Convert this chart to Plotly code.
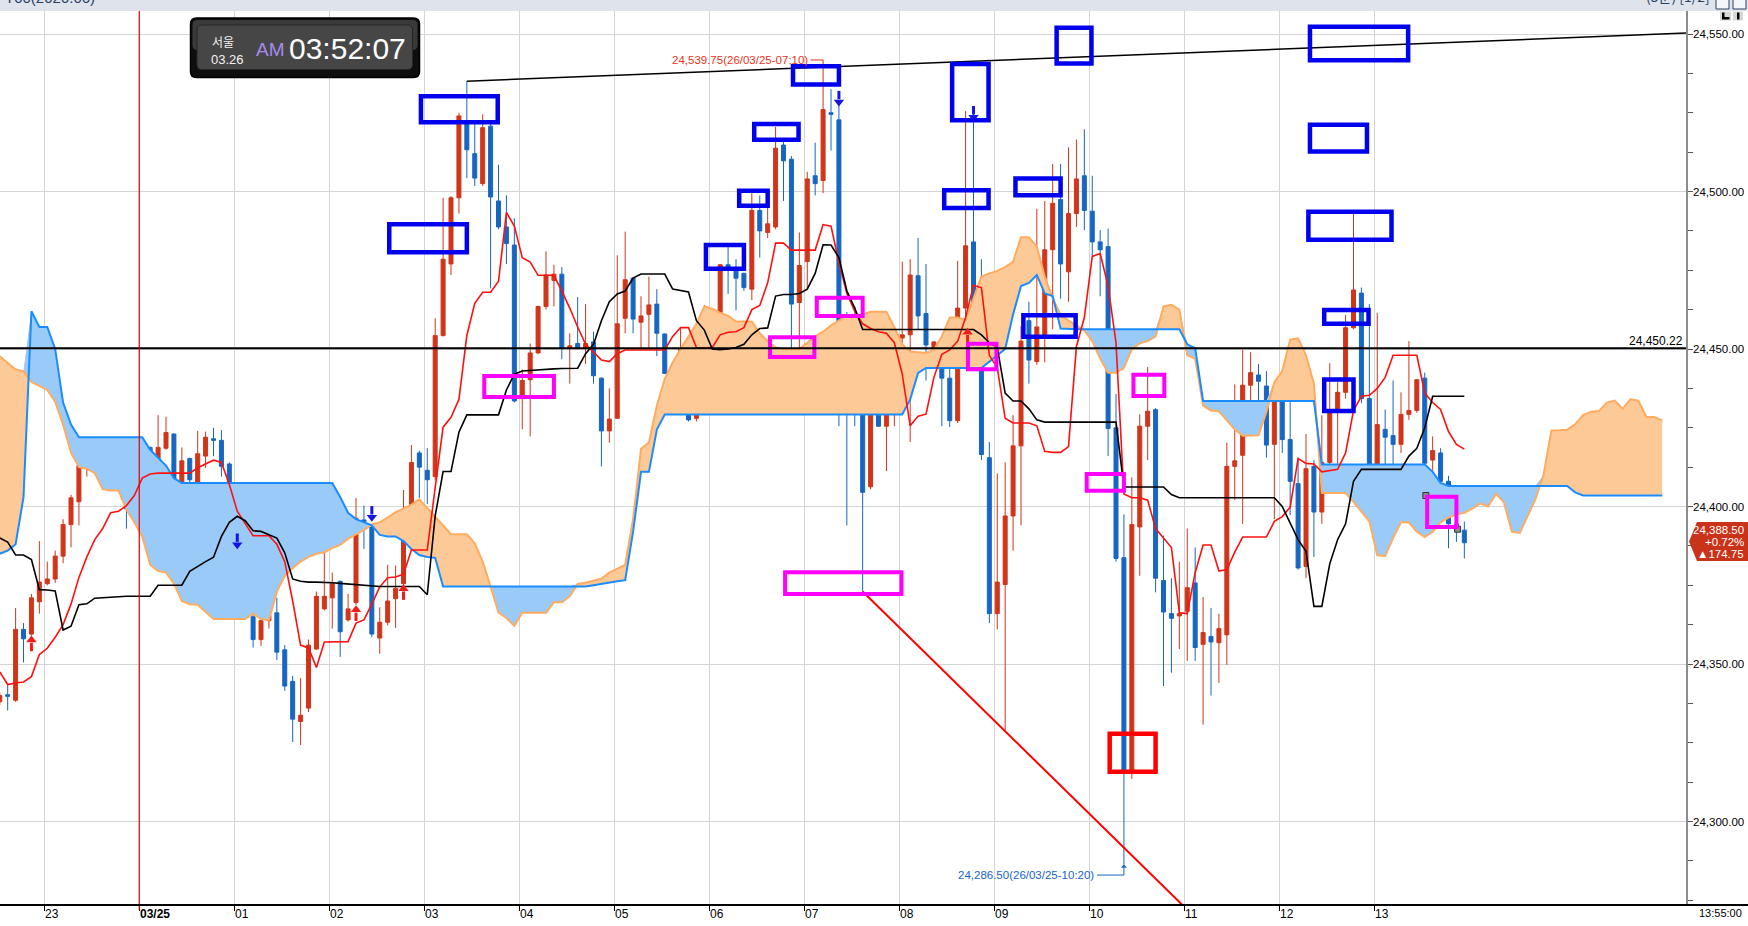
import plotly.graph_objects as go

# 5-minute bars: index 0 = 03/24 23:00, index 179 = 03/25 13:55
bar_index = list(range(-6, 180))

bar_open = [
    24338.0, 24340.25, 24338.5, 24361.0, 24359.5, 24369.75, 24375.5, 24377.0, 24384.25, 24394.25, 24401.5, 24412.25,
    24418.0, 24412.5, 24416.0, 24411.5, 24406.5, 24400.0, 24401.0, 24418.75, 24408.0, 24418.5, 24423.0, 24407.5,
    24415.25, 24407.5, 24416.0, 24421.5, 24421.0, 24413.5, 24382.5, 24380.5, 24365.0, 24357.75, 24363.75, 24366.25,
    24354.5, 24344.5, 24331.75, 24336.0, 24354.75, 24367.5, 24371.0, 24376.25, 24364.0, 24369.5, 24395.75, 24393.5,
    24358.25, 24363.25, 24370.75, 24375.5, 24396.25, 24417.0, 24411.5, 24409.5, 24454.25, 24477.0, 24498.0, 24522.5,
    24512.0, 24502.5, 24520.75, 24497.0, 24488.75, 24483.0, 24435.25, 24440.25, 24448.75, 24463.5, 24471.75, 24473.75,
    24450.5, 24451.75, 24450.25, 24452.25, 24440.75, 24424.0, 24428.0, 24459.75, 24472.5, 24458.5, 24461.0, 24464.25,
    24454.75, 24441.25, 24439.75, 24447.75, 24428.0, 24448.5, 24457.0, 24448.25, 24476.75, 24475.5, 24474.0, 24469.0,
    24494.0, 24487.0, 24488.75, 24514.75, 24510.25, 24464.75, 24477.75, 24505.0, 24503.5, 24525.0, 24522.75, 24439.5,
    24438.75, 24429.25, 24406.25, 24454.5, 24425.5, 24429.25, 24453.5, 24454.5, 24473.25, 24461.25, 24450.5, 24451.25,
    24440.75, 24427.25, 24463.0, 24484.0, 24449.5, 24415.5, 24366.0, 24375.25, 24397.0, 24419.25, 24459.0, 24446.0,
    24453.5, 24481.5, 24497.5, 24474.5, 24493.0, 24505.0, 24493.75, 24484.0, 24482.5, 24425.0, 24383.75, 24315.5,
    24393.5, 24425.5, 24430.75, 24376.5, 24366.0, 24365.25, 24366.75, 24375.75, 24356.25, 24358.75, 24356.75, 24359.25,
    24412.75, 24416.25, 24438.5, 24441.75, 24438.25, 24419.75, 24436.0, 24421.25, 24407.25, 24381.0, 24412.75, 24398.25,
    24414.0, 24430.75, 24436.25, 24456.75, 24467.75, 24434.25, 24407.75, 24424.5, 24422.5, 24419.75, 24429.25, 24430.5,
    24440.75, 24414.75, 24417.0, 24408.0, 24394.5, 24392.5,
]
bar_high = [
    24341.0, 24343.5, 24367.75, 24363.0, 24372.25, 24389.0, 24382.5, 24386.0, 24396.0, 24403.75, 24417.0, 24418.0,
    24420.0, 24418.75, 24421.25, 24413.0, 24407.25, 24404.5, 24421.0, 24419.0, 24429.0, 24428.5, 24423.25, 24418.75,
    24415.5, 24424.0, 24423.75, 24425.0, 24424.25, 24414.0, 24388.75, 24382.75, 24373.0, 24370.25, 24370.75, 24371.0,
    24356.0, 24346.25, 24345.5, 24357.75, 24373.0, 24390.0, 24379.0, 24376.5, 24372.25, 24402.75, 24400.25, 24394.0,
    24368.0, 24381.5, 24381.25, 24405.25, 24419.5, 24417.75, 24418.5, 24459.75, 24498.0, 24498.5, 24525.0, 24535.0,
    24521.5, 24524.5, 24522.5, 24508.5, 24498.75, 24491.5, 24443.5, 24451.75, 24463.75, 24481.0, 24476.75, 24476.0,
    24455.0, 24466.5, 24464.25, 24455.5, 24441.0, 24437.5, 24479.75, 24487.25, 24472.75, 24466.75, 24473.0, 24469.0,
    24455.0, 24446.0, 24456.75, 24453.5, 24451.75, 24464.0, 24462.0, 24477.0, 24482.5, 24478.5, 24474.25, 24499.5,
    24498.75, 24497.5, 24520.5, 24516.5, 24511.25, 24487.0, 24506.25, 24515.5, 24539.75, 24532.5, 24527.25, 24461.75,
    24463.5, 24429.75, 24456.0, 24455.0, 24441.5, 24456.25, 24477.75, 24478.5, 24485.25, 24477.0, 24452.5, 24451.5,
    24449.25, 24478.0, 24525.5, 24524.75, 24478.5, 24420.5, 24410.5, 24414.0, 24429.0, 24457.25, 24465.0, 24494.5,
    24497.0, 24508.75, 24508.75, 24514.0, 24516.5, 24519.75, 24505.0, 24487.75, 24488.25, 24435.75, 24397.5, 24409.25,
    24429.25, 24444.25, 24431.25, 24390.75, 24377.25, 24382.5, 24393.0, 24387.0, 24371.25, 24367.75, 24366.0, 24420.25,
    24438.75, 24449.75, 24449.0, 24445.25, 24443.0, 24438.75, 24440.25, 24442.25, 24415.5, 24423.0, 24414.75, 24429.0,
    24445.5, 24439.5, 24460.75, 24493.5, 24469.5, 24464.25, 24461.5, 24430.75, 24440.0, 24436.25, 24452.5, 24440.5,
    24442.5, 24422.25, 24418.5, 24409.75, 24394.75, 24395.25,
]
bar_low = [
    24337.0, 24335.25, 24338.0, 24350.5, 24359.0, 24366.0, 24375.0, 24375.75, 24382.0, 24387.0, 24394.0, 24409.5,
    24412.75, 24411.0, 24407.25, 24404.75, 24393.0, 24399.0, 24399.75, 24403.75, 24402.5, 24418.0, 24403.75, 24407.0,
    24402.75, 24405.75, 24412.25, 24416.0, 24409.5, 24381.0, 24373.0, 24364.0, 24355.25, 24355.75, 24361.25, 24351.25,
    24341.5, 24325.25, 24324.25, 24334.75, 24354.5, 24367.0, 24361.25, 24352.25, 24363.5, 24368.75, 24386.5, 24358.5,
    24353.25, 24362.25, 24361.5, 24375.0, 24390.5, 24402.75, 24400.75, 24408.5, 24454.0, 24473.5, 24493.0, 24504.25,
    24501.75, 24501.75, 24469.25, 24488.0, 24477.0, 24433.0, 24424.5, 24422.25, 24448.5, 24462.5, 24463.5, 24446.75,
    24439.0, 24450.0, 24445.25, 24439.0, 24412.75, 24420.25, 24428.0, 24455.0, 24455.0, 24450.25, 24450.25, 24447.75,
    24442.0, 24434.5, 24439.5, 24427.0, 24427.0, 24443.5, 24446.0, 24446.0, 24467.5, 24462.25, 24468.5, 24465.5,
    24479.0, 24485.25, 24488.0, 24497.0, 24440.0, 24449.5, 24469.25, 24498.75, 24499.5, 24513.0, 24425.5, 24394.0,
    24425.5, 24373.0, 24405.5, 24425.25, 24411.25, 24425.5, 24429.0, 24420.5, 24456.25, 24440.0, 24445.0, 24425.5,
    24425.25, 24426.5, 24444.0, 24449.5, 24414.75, 24363.0, 24361.0, 24329.0, 24386.0, 24394.0, 24439.0, 24445.0,
    24445.75, 24456.25, 24466.0, 24465.0, 24488.75, 24487.75, 24479.5, 24466.75, 24416.0, 24382.5, 24286.5, 24313.5,
    24378.0, 24414.75, 24372.75, 24343.0, 24347.25, 24354.75, 24351.0, 24351.0, 24330.75, 24340.0, 24344.0, 24349.75,
    24402.0, 24394.5, 24425.75, 24423.0, 24415.5, 24396.0, 24417.0, 24397.25, 24380.0, 24377.25, 24384.0, 24394.5,
    24412.5, 24410.25, 24434.25, 24456.25, 24432.75, 24403.5, 24402.0, 24409.25, 24406.5, 24417.0, 24427.5, 24429.75,
    24411.75, 24404.75, 24400.25, 24386.75, 24388.75, 24383.5,
]
bar_close = [
    24340.0, 24339.75, 24361.0, 24358.0, 24371.0, 24376.0, 24377.0, 24384.25, 24394.25, 24402.75, 24413.0, 24417.0,
    24412.75, 24414.5, 24411.0, 24407.25, 24399.25, 24399.5, 24419.75, 24405.0, 24418.75, 24423.5, 24407.25, 24414.5,
    24408.5, 24416.75, 24422.0, 24421.0, 24412.75, 24382.5, 24380.0, 24366.25, 24357.75, 24363.75, 24365.5, 24353.75,
    24343.0, 24332.5, 24333.75, 24356.0, 24371.5, 24371.5, 24375.5, 24360.25, 24367.5, 24396.25, 24393.5, 24359.5,
    24363.25, 24370.0, 24374.0, 24396.25, 24414.0, 24412.5, 24408.5, 24454.25, 24478.5, 24498.0, 24524.0, 24513.25,
    24504.25, 24520.25, 24498.25, 24488.75, 24483.5, 24433.5, 24440.0, 24448.75, 24463.5, 24473.5, 24473.75, 24450.25,
    24451.0, 24450.25, 24451.75, 24441.5, 24424.0, 24427.75, 24458.0, 24472.0, 24459.5, 24460.5, 24464.0, 24455.0,
    24442.25, 24440.75, 24450.0, 24427.5, 24448.5, 24457.25, 24446.75, 24476.75, 24475.0, 24472.5, 24469.5, 24494.0,
    24487.5, 24489.75, 24513.75, 24509.75, 24464.25, 24476.5, 24504.0, 24502.5, 24526.0, 24524.5, 24439.0, 24437.5,
    24434.0, 24404.5, 24454.25, 24425.5, 24431.5, 24453.5, 24454.5, 24473.5, 24460.5, 24451.25, 24452.25, 24440.75,
    24427.25, 24463.0, 24482.75, 24449.5, 24416.5, 24366.0, 24376.0, 24397.0, 24419.25, 24452.5, 24446.5, 24457.0,
    24481.5, 24496.25, 24477.0, 24493.0, 24504.0, 24494.0, 24484.0, 24481.5, 24424.75, 24383.5, 24316.0, 24394.25,
    24425.5, 24430.25, 24377.25, 24366.5, 24364.5, 24366.0, 24374.25, 24355.25, 24360.0, 24357.0, 24361.25, 24412.75,
    24414.5, 24438.5, 24442.5, 24439.75, 24419.5, 24436.0, 24421.25, 24408.0, 24380.5, 24412.0, 24398.25, 24414.0,
    24430.0, 24436.25, 24456.75, 24468.75, 24434.25, 24406.75, 24426.0, 24422.0, 24419.75, 24429.25, 24430.5, 24440.25,
    24413.75, 24417.75, 24408.0, 24394.5, 24392.75, 24388.5,
]

# Ichimoku lines
tenkan = [
    24347.5, 24343.5, 24344.0, 24344.3, 24346.0, 24353.0, 24355.0, 24358.5, 24362.5, 24369.0, 24377.5, 24384.0,
    24389.5, 24393.0, 24398.0, 24398.5, 24400.3, 24403.5, 24409.0, 24410.3, 24410.6, 24410.6, 24410.6, 24410.6,
    24410.6, 24412.3, 24413.5, 24414.7, 24414.0, 24407.0, 24398.5, 24394.5, 24390.7, 24390.7, 24390.7, 24388.0,
    24382.5, 24370.0, 24356.0, 24355.1, 24348.9, 24357.0, 24357.1, 24357.1, 24357.1, 24363.0, 24364.0, 24369.0,
    24374.5, 24377.4, 24377.6, 24378.5, 24386.2, 24386.2, 24386.2, 24406.0, 24425.2, 24428.3, 24434.0, 24454.3,
    24464.5, 24468.0, 24468.0, 24471.5, 24493.4, 24489.0, 24479.0, 24477.6, 24473.4, 24473.4, 24473.4, 24468.4,
    24463.0, 24457.0, 24451.5, 24449.0, 24446.5, 24446.0, 24448.5, 24449.7, 24449.7, 24449.7, 24449.7, 24449.7,
    24449.7, 24454.0, 24456.8, 24456.8, 24450.5, 24450.3, 24450.5, 24454.5, 24455.3, 24455.5, 24456.8, 24462.5,
    24463.8, 24471.0, 24483.6, 24483.6, 24481.4, 24481.4, 24481.4, 24481.4, 24489.5, 24489.0, 24477.5, 24467.6,
    24462.0, 24458.0, 24456.5, 24455.5, 24455.0, 24452.0, 24442.0, 24425.6, 24428.7, 24429.3, 24441.0, 24448.3,
    24449.7, 24452.5, 24460.0, 24470.2, 24469.5, 24448.0, 24444.1, 24428.0, 24426.5, 24426.5, 24426.5, 24425.6,
    24417.5, 24417.2, 24417.2, 24419.0, 24450.8, 24460.0, 24479.4, 24480.3, 24470.0, 24452.0, 24404.0, 24402.8,
    24402.8, 24402.0, 24393.0, 24390.0, 24387.0, 24366.3, 24366.0, 24379.0, 24387.8, 24387.8, 24379.5, 24380.0,
    24385.5, 24390.3, 24390.3, 24390.3, 24390.3, 24395.3, 24396.8, 24399.8, 24415.2, 24413.7, 24413.5, 24411.0,
    24411.5, 24411.8, 24417.0, 24430.5, 24435.0, 24435.3, 24437.5, 24441.0, 24448.0, 24448.0, 24448.0, 24448.0,
    24436.0, 24433.0, 24430.8, 24423.8, 24419.7, 24418.2,
]
kijun = [
    24390.0, 24388.7, 24384.6, 24384.6, 24383.2, 24373.6, 24373.5, 24373.2, 24360.8, 24362.0, 24368.8, 24369.1,
    24370.9, 24371.1, 24371.3, 24371.5, 24371.5, 24371.5, 24371.5, 24371.5, 24375.0, 24375.0, 24375.0, 24375.0,
    24379.4, 24381.0, 24382.5, 24383.9, 24390.5, 24395.0, 24396.9, 24395.5, 24392.3, 24392.1, 24391.0, 24390.0,
    24385.3, 24377.0, 24376.3, 24376.0, 24376.0, 24376.0, 24375.8, 24375.6, 24375.4, 24375.2, 24375.0, 24374.6,
    24374.6, 24374.6, 24374.6, 24374.6, 24374.6, 24374.6, 24372.0, 24397.0, 24411.1, 24411.1, 24423.6, 24429.1,
    24429.1, 24429.1, 24429.1, 24429.1, 24437.0, 24442.0, 24443.0, 24443.2, 24443.5, 24443.5, 24443.7, 24443.8,
    24443.9, 24443.9, 24448.5, 24451.5, 24459.0, 24465.0, 24467.5, 24468.4, 24472.5, 24473.8, 24473.8, 24473.8,
    24473.8, 24469.0, 24468.5, 24468.1, 24459.0, 24456.0, 24450.0, 24449.8, 24450.0, 24450.5, 24451.5, 24454.5,
    24456.5, 24456.7, 24466.8, 24467.3, 24467.3, 24467.6, 24469.0, 24474.0, 24483.1, 24483.0, 24479.0, 24468.5,
    24463.0, 24456.2, 24456.2, 24456.2, 24456.2, 24456.2, 24456.2, 24456.2, 24456.2, 24456.2, 24456.2, 24456.2,
    24456.2, 24456.2, 24456.2, 24456.2, 24454.5, 24452.0, 24450.5, 24436.0, 24433.5, 24433.5, 24431.0, 24427.5,
    24426.8, 24426.8, 24426.8, 24426.8, 24426.8, 24426.8, 24426.8, 24426.8, 24426.8, 24426.8, 24406.2, 24406.2,
    24406.2, 24406.2, 24406.2, 24406.2, 24403.8, 24402.8, 24402.8, 24402.8, 24402.8, 24402.8, 24402.8, 24402.8,
    24402.8, 24402.8, 24402.8, 24402.8, 24402.8, 24402.8, 24400.0, 24395.0, 24389.5, 24385.8, 24368.3, 24368.3,
    24381.8, 24389.5, 24394.5, 24408.0, 24411.8, 24411.8, 24411.8, 24411.8, 24411.8, 24411.8, 24416.0, 24418.5,
    24425.0, 24435.0, 24435.0, 24435.0, 24435.0, 24435.0,
]

# cloud runs 26 bars past the last candle
cloud_index = list(range(-6, 205))
span_a = [
    24447.7, 24445.5, 24443.5, 24443.0, 24439.5, 24438.3, 24437.0, 24433.3, 24426.0, 24417.0, 24412.5, 24412.0,
    24410.6, 24405.5, 24405.1, 24405.1, 24399.0, 24395.0, 24390.5, 24381.5, 24379.5, 24379.1, 24375.5, 24370.0,
    24369.0, 24368.8, 24366.5, 24364.3, 24364.3, 24364.3, 24364.3, 24364.3, 24366.0, 24364.3, 24364.0, 24372.9,
    24378.0, 24380.5, 24382.5, 24384.0, 24385.0, 24385.5, 24386.8, 24387.8, 24389.8, 24391.2, 24392.5, 24394.3,
    24395.0, 24396.5, 24398.2, 24399.3, 24400.6, 24402.3, 24399.5, 24396.7, 24394.0, 24391.2, 24391.2, 24391.2,
    24388.3, 24382.5, 24374.6, 24366.3, 24364.6, 24362.1, 24366.3, 24366.3, 24366.3, 24366.3, 24369.6, 24369.6,
    24371.5, 24375.4, 24375.8, 24376.5, 24377.1, 24379.0, 24380.2, 24381.5, 24396.0, 24418.3, 24420.3, 24432.0,
    24440.5, 24445.7, 24450.0, 24454.0, 24458.0, 24463.5, 24462.8, 24461.5, 24460.5, 24458.7, 24458.7, 24458.7,
    24455.0, 24452.5, 24450.5, 24450.0, 24450.0, 24450.0, 24452.0, 24454.0, 24455.5, 24457.5, 24459.0, 24460.5,
    24460.9, 24460.9, 24461.8, 24461.8, 24461.8, 24457.0, 24451.5, 24449.2, 24449.0, 24448.7, 24449.8, 24454.0,
    24460.0, 24460.0, 24459.2, 24466.0, 24473.0, 24474.0, 24474.8, 24476.0, 24477.7, 24485.5, 24485.5, 24482.5,
    24473.0, 24466.0, 24461.0, 24459.0, 24457.5, 24455.9, 24452.5, 24447.0, 24442.5, 24442.5, 24444.0, 24450.0,
    24451.8, 24452.5, 24454.0, 24463.5, 24464.0, 24462.5, 24448.0, 24447.0, 24432.0, 24430.5, 24430.2, 24427.5,
    24424.5, 24422.5, 24422.5, 24422.6, 24430.0, 24439.5, 24443.0, 24453.0, 24453.4, 24448.0, 24439.0, 24404.3,
    24404.3, 24404.3, 24404.3, 24401.5, 24398.3, 24395.3, 24384.5, 24384.3, 24390.0, 24395.0, 24395.0, 24392.0,
    24390.3, 24392.0, 24395.0, 24396.5, 24397.5, 24398.0, 24399.3, 24401.0, 24400.0, 24404.0, 24401.3, 24392.0,
    24391.6, 24397.0, 24402.4, 24410.0, 24424.1, 24424.2, 24424.4, 24426.1, 24429.0, 24430.1, 24430.3, 24433.0,
    24433.6, 24431.0, 24434.1, 24433.5, 24428.4, 24428.4, 24427.3,
]
span_b = [
    24385.0, 24386.0, 24388.0, 24403.0, 24462.0, 24457.0, 24457.0, 24450.0, 24433.0, 24426.0, 24422.0, 24422.0,
    24422.0, 24422.0, 24422.0, 24422.0, 24422.0, 24422.0, 24422.0, 24418.0, 24415.5, 24413.0, 24409.0, 24407.5,
    24407.5, 24407.5, 24407.5, 24407.5, 24407.5, 24407.5, 24407.5, 24407.5, 24407.5, 24407.5, 24407.5, 24407.5,
    24407.5, 24407.5, 24407.5, 24407.5, 24407.5, 24407.5, 24407.5, 24403.0, 24398.0, 24396.0, 24395.0, 24394.0,
    24391.0, 24390.5, 24390.5, 24389.0, 24386.5, 24384.6, 24384.0, 24383.7, 24374.6, 24374.6, 24374.6, 24374.6,
    24374.6, 24374.6, 24374.6, 24374.6, 24374.6, 24374.6, 24374.6, 24374.6, 24374.6, 24374.6, 24374.6, 24374.6,
    24374.6, 24374.6, 24374.6, 24375.0, 24375.5, 24376.0, 24376.3, 24376.6, 24392.0, 24411.0, 24411.0, 24424.4,
    24429.2, 24429.2, 24429.2, 24429.2, 24429.2, 24429.2, 24429.2, 24429.2, 24429.2, 24429.2, 24429.2, 24429.2,
    24429.2, 24429.2, 24429.2, 24429.2, 24429.2, 24429.2, 24429.2, 24429.2, 24429.2, 24429.2, 24429.2, 24429.2,
    24429.2, 24429.2, 24429.2, 24429.2, 24429.2, 24429.2, 24429.2, 24434.0, 24442.4, 24444.0, 24444.0, 24444.0,
    24444.0, 24444.0, 24444.0, 24444.0, 24444.0, 24446.0, 24448.0, 24450.0, 24461.0, 24470.0, 24471.0, 24473.5,
    24467.6, 24466.8, 24456.5, 24456.3, 24456.3, 24456.3, 24456.3, 24456.3, 24456.3, 24456.3, 24456.3, 24456.3,
    24456.3, 24456.3, 24456.3, 24456.3, 24456.3, 24456.3, 24451.5, 24450.3, 24433.5, 24433.5, 24433.5, 24433.5,
    24433.5, 24433.5, 24433.5, 24433.5, 24433.5, 24433.5, 24433.5, 24433.5, 24433.5, 24433.5, 24433.5, 24413.3,
    24413.3, 24413.3, 24413.3, 24413.3, 24413.3, 24413.3, 24413.3, 24413.3, 24413.3, 24413.3, 24413.3, 24413.3,
    24413.3, 24411.0, 24407.5, 24406.5, 24406.5, 24406.5, 24406.5, 24406.5, 24406.5, 24406.5, 24406.5, 24406.5,
    24406.5, 24406.5, 24406.5, 24406.5, 24406.5, 24406.5, 24406.5, 24404.5, 24403.5, 24403.5, 24403.5, 24403.5,
    24403.5, 24403.5, 24403.5, 24403.5, 24403.5, 24403.5, 24403.5,
]

tick_labels = ["23", "03/25", "01", "02", "03", "04", "05", "06", "07",
               "08", "09", "10", "11", "12", "13"]

# signal arrows (bar, price)
sell_x = [24, 41, 100, 117]
sell_y = [24388.5, 24397.2, 24529.0, 24524.2]
buy_x = [-2, 39, 45, 116.25]
buy_y = [24357.0, 24366.6, 24373.3, 24454.7]

# drawn boxes: (x0, x1, y0, y1) in bar / price units
blue_boxes = [
    (47.2, 56.9, 24522.0, 24530.2), (43.2, 53.0, 24480.7, 24489.6),
    (94.2, 100.0, 24534.0, 24539.8), (89.3, 94.9, 24516.4, 24521.4),
    (87.4, 91.0, 24495.5, 24500.2), (83.2, 88.0, 24475.5, 24483.0),
    (114.3, 118.9, 24522.6, 24540.5), (113.3, 118.9, 24494.8, 24500.4),
    (127.5, 131.9, 24540.6, 24552.0), (122.3, 128.0, 24498.8, 24504.1),
    (123.3, 129.9, 24453.9, 24460.7), (159.5, 171.9, 24541.7, 24552.3),
    (159.5, 166.7, 24512.7, 24521.2), (159.3, 169.8, 24484.7, 24493.6),
    (161.3, 166.9, 24458.0, 24462.4), (161.3, 165.0, 24430.3, 24440.3),
]
magenta_boxes = [
    (55.2, 64.0, 24434.8, 24441.4), (91.3, 96.9, 24447.5, 24453.7),
    (97.2, 103.0, 24460.5, 24466.3), (116.3, 119.9, 24443.6, 24451.7),
    (137.2, 141.1, 24435.1, 24441.8), (131.3, 136.0, 24405.0, 24410.3),
    (93.2, 107.9, 24372.2, 24379.1), (174.3, 178.0, 24393.5, 24403.1),
]
red_boxes = [(134.2, 140.0, 24315.8, 24327.9)]
handle_x = [174.14, 178.15]
handle_y = [24403.5, 24392.8]

# trend lines through the highs / lows
resist_x = [53, 207.0]
resist_y = [24535.0, 24550.3]
support_x = [103, 144.0]
support_y = [24373.0, 24272.0]
level_line = 24450.22

RED = "#d0351a"
BLUE = "#1766c2"
SANS = "Liberation Sans, Arial, sans-serif"
KR = "Noto Sans CJK KR, sans-serif"

PLOT_R, PLOT_T, PLOT_B = 1686, 11, 905


def px(x):
    return x / PLOT_R


def py(y):
    return (PLOT_B - y) / (PLOT_B - PLOT_T)


def rounded(x0, y0, x1, y1, r):
    """Rounded rectangle path in paper units from pixel coordinates."""
    return (f"M {px(x0 + r)},{py(y0)} L {px(x1 - r)},{py(y0)} "
            f"Q {px(x1)},{py(y0)} {px(x1)},{py(y0 + r)} L {px(x1)},{py(y1 - r)} "
            f"Q {px(x1)},{py(y1)} {px(x1 - r)},{py(y1)} L {px(x0 + r)},{py(y1)} "
            f"Q {px(x0)},{py(y1)} {px(x0)},{py(y1 - r)} L {px(x0)},{py(y0 + r)} "
            f"Q {px(x0)},{py(y0)} {px(x0 + r)},{py(y0)} Z")


cloud_top = [max(a, b) for a, b in zip(span_a, span_b)]
tick_pos = [12 * k - 0.38 for k in range(len(tick_labels))]

fig = go.Figure()

# cloud fills: orange where span A is on top, blue where span B is on top
fig.add_trace(go.Scatter(x=cloud_index, y=span_b, mode='lines', line=dict(width=0),
                         hoverinfo='skip'))
fig.add_trace(go.Scatter(x=cloud_index, y=cloud_top, mode='lines', line=dict(width=0),
                         fill='tonexty', fillcolor='#fdca97', hoverinfo='skip'))
fig.add_trace(go.Scatter(x=cloud_index, y=span_a, mode='lines', line=dict(width=0),
                         hoverinfo='skip'))
fig.add_trace(go.Scatter(x=cloud_index, y=cloud_top, mode='lines', line=dict(width=0),
                         fill='tonexty', fillcolor='#9acbf8', hoverinfo='skip'))
fig.add_trace(go.Scatter(x=cloud_index, y=span_a, mode='lines',
                         line=dict(color='#ffab60', width=2), hoverinfo='skip'))
fig.add_trace(go.Scatter(x=cloud_index, y=span_b, mode='lines',
                         line=dict(color='#1a8cff', width=2), hoverinfo='skip'))

fig.add_trace(go.Candlestick(
    x=bar_index, open=bar_open, high=bar_high, low=bar_low, close=bar_close,
    increasing=dict(line=dict(color=RED, width=1), fillcolor=RED),
    decreasing=dict(line=dict(color=BLUE, width=1), fillcolor=BLUE),
    whiskerwidth=0, hoverinfo='skip'))

fig.add_trace(go.Scatter(x=bar_index, y=tenkan, mode='lines',
                         line=dict(color='#ff1010', width=1.6), hoverinfo='skip'))
fig.add_trace(go.Scatter(x=bar_index, y=kijun, mode='lines',
                         line=dict(color='#000000', width=1.6), hoverinfo='skip'))

fig.add_trace(go.Scatter(x=resist_x, y=resist_y, mode='lines',
                         line=dict(color='#000000', width=1.5), hoverinfo='skip'))
fig.add_trace(go.Scatter(x=support_x, y=support_y, mode='lines',
                         line=dict(color='#ff0000', width=2), hoverinfo='skip'))

# signal arrows: head plus a short stem
fig.add_trace(go.Scatter(x=sell_x, y=[v - 0.6 for v in sell_y], mode='markers', hoverinfo='skip',
                         marker=dict(symbol='triangle-down', size=9, color='#1414e6')))
fig.add_trace(go.Scatter(x=sell_x, y=[v + 1.6 for v in sell_y], mode='markers', hoverinfo='skip',
                         marker=dict(symbol='line-ns', size=6, line=dict(color='#1414e6', width=3))))
fig.add_trace(go.Scatter(x=buy_x, y=[v + 0.6 for v in buy_y], mode='markers', hoverinfo='skip',
                         marker=dict(symbol='triangle-up', size=9, color='#f01c1c')))
fig.add_trace(go.Scatter(x=buy_x, y=[v - 1.6 for v in buy_y], mode='markers', hoverinfo='skip',
                         marker=dict(symbol='line-ns', size=6, line=dict(color='#f01c1c', width=3))))

# max / min leaders
hi_i = bar_high.index(max(bar_high))
lo_i = bar_low.index(min(bar_low))
hi_bar, lo_bar = bar_index[hi_i], bar_index[lo_i]
fig.add_trace(go.Scatter(x=[hi_bar - 1.6, hi_bar, hi_bar],
                         y=[max(bar_high) + 2.0, max(bar_high) + 2.0, max(bar_high)],
                         mode='lines', line=dict(color='#e8321a', width=1), hoverinfo='skip'))
fig.add_trace(go.Scatter(x=[lo_bar - 3.4, lo_bar, lo_bar],
                         y=[min(bar_low) - 3.5, min(bar_low) - 3.5, min(bar_low) - 0.4],
                         mode='lines', line=dict(color='#1b63c7', width=1), hoverinfo='skip'))
fig.add_trace(go.Scatter(x=[lo_bar], y=[min(bar_low) - 0.8], mode='markers', hoverinfo='skip',
                         marker=dict(symbol='triangle-up', size=5, color='#1b63c7')))

shapes = []
for x0, x1, y0, y1 in blue_boxes:
    shapes.append(dict(type='rect', x0=x0, x1=x1, y0=y0, y1=y1, xref='x', yref='y',
                       line=dict(color='#0000ee', width=4.5), layer='above'))
for x0, x1, y0, y1 in magenta_boxes:
    shapes.append(dict(type='rect', x0=x0, x1=x1, y0=y0, y1=y1, xref='x', yref='y',
                       line=dict(color='#ff00ff', width=4), layer='above'))
for x0, x1, y0, y1 in red_boxes:
    shapes.append(dict(type='rect', x0=x0, x1=x1, y0=y0, y1=y1, xref='x', yref='y',
                       line=dict(color='#ff0000', width=4.5), layer='above'))

# level line and date separator
shapes.append(dict(type='line', xref='paper', yref='y', x0=0, x1=1, y0=level_line, y1=level_line,
                   line=dict(color='black', width=2), layer='above'))
shapes.append(dict(type='line', xref='x', yref='paper', x0=tick_pos[1], x1=tick_pos[1],
                   y0=py(910), y1=1, line=dict(color='#e00000', width=1.2), layer='above'))
shapes.append(dict(type='line', xref='paper', yref='paper', x0=0, x1=px(1748), y0=0, y1=0,
                   line=dict(color='black', width=2)))

# header band
shapes.append(dict(type='rect', xref='paper', yref='paper', x0=0, x1=px(1748), y0=py(11), y1=py(0),
                   fillcolor='#dfe4ec', line=dict(width=0)))
shapes.append(dict(type='rect', xref='paper', yref='paper', x0=px(1716), x1=px(1729), y0=py(9), y1=py(-3),
                   fillcolor='#f4f6f9', line=dict(color='#2b3f63', width=1)))
shapes.append(dict(type='rect', xref='paper', yref='paper', x0=px(1733), x1=px(1746), y0=py(9), y1=py(-3),
                   fillcolor='#f4f6f9', line=dict(color='#2b3f63', width=1)))
shapes.append(dict(type='rect', xref='paper', yref='paper', x0=px(1720), x1=px(1731), y0=py(20.5), y1=py(11.5),
                   fillcolor='#d8d8d8', line=dict(width=0)))
shapes.append(dict(type='rect', xref='paper', yref='paper', x0=px(1733), x1=px(1743), y0=py(20.5), y1=py(11.5),
                   fillcolor='#d8d8d8', line=dict(width=0)))
# L / I glyphs drawn as bars
shapes.append(dict(type='path', xref='paper', yref='paper',
                   path=(f"M {px(1722)},{py(12.5)} L {px(1724.5)},{py(12.5)} L {px(1724.5)},{py(17)} "
                         f"L {px(1729.5)},{py(17)} L {px(1729.5)},{py(19.5)} L {px(1722)},{py(19.5)} Z"),
                   fillcolor='black', line=dict(width=0)))
shapes.append(dict(type='rect', xref='paper', yref='paper', x0=px(1737), x1=px(1739.5), y0=py(19.5), y1=py(12.5),
                   fillcolor='black', line=dict(width=0)))

# clock widget
shapes.append(dict(type='path', xref='paper', yref='paper', path=rounded(190.5, 18, 419.5, 77.5, 6),
                   fillcolor='#0e0e0e', line=dict(color='#000000', width=1.5)))
shapes.append(dict(type='path', xref='paper', yref='paper', path=rounded(192.5, 20, 417.5, 50, 5),
                   fillcolor='#3a3a3a', line=dict(width=0)))
shapes.append(dict(type='path', xref='paper', yref='paper', path=rounded(197, 25, 412.5, 69.5, 5),
                   fillcolor='#464646', line=dict(color='#262626', width=1)))

# current price tag
shapes.append(dict(type='path', xref='paper', yref='paper',
                   path=(f"M {px(1697)},{py(522)} L {px(1748)},{py(522)} L {px(1748)},{py(561)} "
                         f"L {px(1697)},{py(561)} L {px(1689)},{py(541.5)} Z"),
                   fillcolor='#c9331a', line=dict(width=0)))

annotations = []
for pos, lab in zip(tick_pos, tick_labels):
    text = f"<b>{lab}</b>" if lab == "03/25" else lab
    annotations.append(dict(x=pos, y=0, xref='x', yref='paper', text=text, showarrow=False,
                            xanchor='left', yanchor='top', yshift=0, xshift=-1,
                            font=dict(family=SANS, size=12, color='black')))
annotations.append(dict(x=px(1697), y=0, xref='paper', yref='paper', text="13:55:00", showarrow=False,
                        xanchor='left', yanchor='top', yshift=0,
                        font=dict(family=SANS, size=11, color='black')))
annotations.append(dict(x=px(1685), y=py(341), xref='paper', yref='paper', text="24,450.22",
                        showarrow=False, xanchor='right', yanchor='middle',
                        font=dict(family=SANS, size=12, color='black')))
annotations.append(dict(x=hi_bar - 1.7, y=max(bar_high) + 2.0, xref='x', yref='y',
                        text="24,539.75(26/03/25-07:10)", showarrow=False,
                        xanchor='right', yanchor='middle',
                        font=dict(family=SANS, size=11.5, color='#e8321a')))
annotations.append(dict(x=lo_bar - 3.5, y=min(bar_low) - 3.5, xref='x', yref='y',
                        text="24,286.50(26/03/25-10:20)", showarrow=False,
                        xanchor='right', yanchor='middle',
                        font=dict(family=SANS, size=11.5, color='#1b63c7')))
# header texts (cut by the window top)
annotations.append(dict(x=px(3), y=py(8), xref='paper', yref='paper', text="T00(2026.06)",
                        showarrow=False, xanchor='left', yanchor='bottom',
                        font=dict(family=SANS, size=15, color='#2b3f63')))
annotations.append(dict(x=px(1712), y=py(8), xref='paper', yref='paper', text="(5분) [1/2]",
                        showarrow=False, xanchor='right', yanchor='bottom',
                        font=dict(family=KR, size=14, color='#2b3f63')))
# clock texts
clock_texts = [("서울", 223, 42, KR, 12, '#f2f2f2'),
               ("03.26", 227, 59.5, SANS, 13, '#f2f2f2'),
               ("AM", 270.5, 50, SANS, 19, '#a78bea'),
               ("03:52:07", 347.5, 48.5, SANS, 30, '#ffffff')]
for txt, cx, cy, fam, size, col in clock_texts:
    annotations.append(dict(x=px(cx), y=py(cy), xref='paper', yref='paper', text=txt,
                            showarrow=False, xanchor='center', yanchor='middle',
                            font=dict(family=fam, size=size, color=col)))
# price tag texts
for txt, yy in (("24,388.50", 529.5), ("+0.72%", 541.5), ("▲174.75", 553.5)):
    annotations.append(dict(x=px(1746), y=py(yy), xref='paper', yref='paper', text=txt,
                            showarrow=False, xanchor='right', yanchor='middle',
                            font=dict(family=SANS, size=11.5, color='white')))

fig.add_trace(go.Scatter(x=handle_x, y=handle_y, mode='markers', hoverinfo='skip',
                         marker=dict(symbol='square', size=6, color='#8c8c8c',
                                     line=dict(color='#333333', width=1))))

fig.update_layout(
    width=1748, height=926,
    margin=dict(l=0, r=1748 - PLOT_R, t=PLOT_T, b=926 - PLOT_B),
    paper_bgcolor='white', plot_bgcolor='white',
    showlegend=False, boxgap=0.28, hovermode=False,
    shapes=shapes, annotations=annotations,
    font=dict(family=SANS, size=12, color='black'),
)
fig.update_xaxes(
    range=[-5.97, 207.0], tickmode='array', tickvals=tick_pos, showticklabels=False,
    ticks='outside', ticklen=5, tickcolor='black', showgrid=True, gridcolor='#d4d4d4',
    gridwidth=1, showline=False, zeroline=False, rangeslider=dict(visible=False),
    automargin=False,
)
fig.update_yaxes(
    side='right', range=[24273.5, 24557.3], tickmode='linear', tick0=24300, dtick=50,
    tickformat=',.2f', ticks='outside', ticklen=5, tickcolor='#555555',
    minor=dict(tick0=24300, dtick=12.5, ticks='outside', ticklen=5, tickcolor='#555555'),
    showgrid=True, gridcolor='#d4d4d4', gridwidth=1, showline=True, linecolor='#8c8c8c',
    linewidth=1.5, zeroline=False, automargin=False, ticklabelstandoff=-2,
    tickfont=dict(family=SANS, size=11.5, color='black'),
)

# the page body has a default margin; remove it so the figure sits at the window corner
fig.write_html("out.html", config={'displayModeBar': False},
               post_script="document.body.style.margin='0';")
